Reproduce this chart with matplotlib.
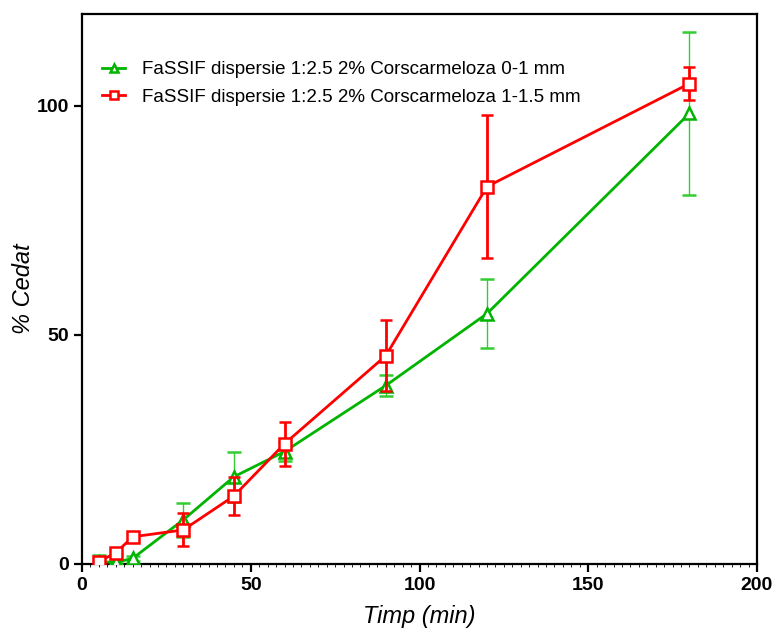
import numpy as np
import matplotlib.pyplot as plt
from matplotlib.ticker import MultipleLocator

# ----------------------------
# Data
# ----------------------------

time_min = [5, 10, 15, 30, 45, 60, 90, 120, 180]

green_mean = [0.5, 0.3, 1.2, 9.6, 19.0, 24.5, 38.9, 54.6, 98.3]
green_err = [1.5, 0.3, 0.5, 3.7, 5.5, 2.0, 2.2, 7.6, 17.8]

red_mean = [0.5, 2.4, 5.9, 7.4, 14.8, 26.2, 45.4, 82.3, 104.8]
red_err = [0.5, 0.5, 0.5, 3.6, 4.2, 4.8, 7.7, 15.6, 3.7]

labels = ["FaSSIF dispersie 1:2.5 2% Corscarmeloza 0-1 mm",
          "FaSSIF dispersie 1:2.5 2% Corscarmeloza 1-1.5 mm"]

plt.rcParams['font.family'] = ['Liberation Sans', 'DejaVu Sans']

# ----------------------------
# Plot
# ----------------------------

fig = plt.figure(figsize=(7.74, 6.3), dpi=100)
ax = fig.add_axes([0.106, 0.105, 0.872, 0.873])

g = ax.errorbar(time_min, green_mean, yerr=green_err, color="#00b400",
                ecolor="#33cc33", elinewidth=1.0, capsize=5, capthick=1.0,
                lw=2, marker="^", ms=8, mfc="white", mec="#00b400", mew=1.8,
                zorder=3)

r = ax.errorbar(time_min, red_mean, yerr=red_err, color="#ff0000",
                ecolor="#ff0000", elinewidth=2.0, capsize=4, capthick=2.0,
                lw=2, marker="s", ms=8, mfc="white", mec="#ff0000", mew=1.8,
                zorder=4)

ax.set_xlim(0, 200)
ax.set_ylim(0, 120)
ax.set_xticks([0, 50, 100, 150, 200])
ax.set_yticks([0, 50, 100])
ax.xaxis.set_minor_locator(MultipleLocator(2.5))

for s in ax.spines.values():
    s.set_linewidth(1.6)

ax.tick_params(axis="both", which="major", direction="out", length=6,
               width=1.6, labelsize=14)
ax.tick_params(axis="x", which="minor", direction="out", length=2, width=0.6)
for t in ax.get_xticklabels() + ax.get_yticklabels():
    t.set_fontweight("bold")

ax.set_xlabel("Timp (min)", fontsize=17, style="italic", labelpad=8)
ax.set_ylabel("% Cedat", fontsize=17, style="italic", labelpad=1)

# legend with plain line+marker handles (no error bars)
ax.legend([g[0], r[0]], labels, loc="upper left",
          bbox_to_anchor=(0.005, 0.945), frameon=False,
          fontsize=13.5, handlelength=1.2, handletextpad=0.9,
          labelspacing=0.55, markerscale=0.7)

fig.savefig("out.png", dpi=100)
